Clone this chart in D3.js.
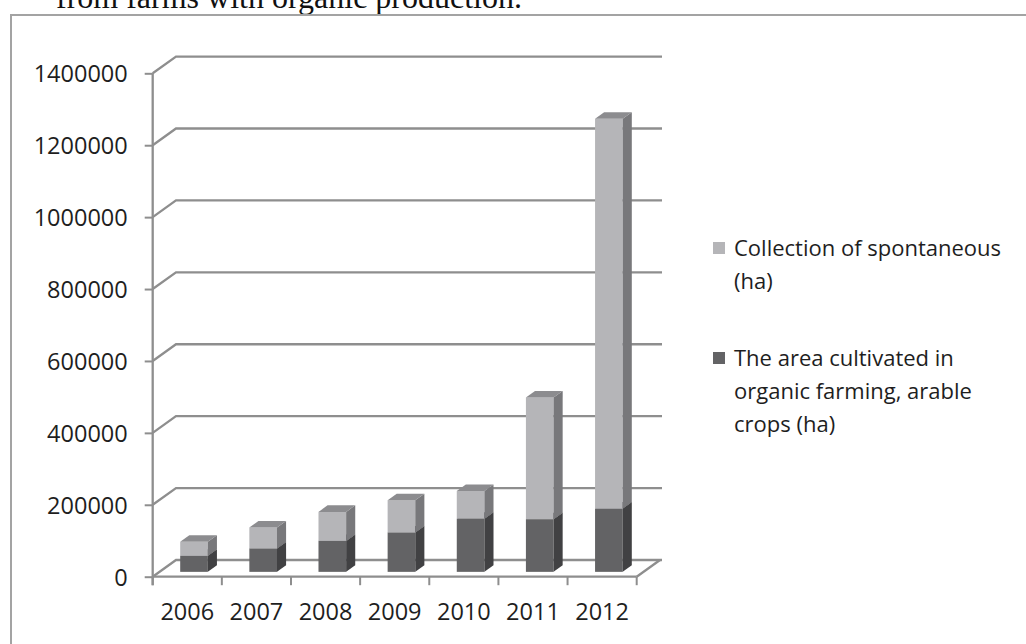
<!DOCTYPE html>
<html><head><meta charset="utf-8">
<script src="https://cdn.jsdelivr.net/npm/d3@7"></script>
<style>
html,body{margin:0;padding:0;background:#fff;}
svg{display:block;}
</style></head>
<body>
<svg id="chart" width="1026" height="644"></svg>
<script>
// ---- data ----
const years = ["2006","2007","2008","2009","2010","2011","2012"];
const arable = [44500, 65000, 86000, 109500, 148000, 146500, 176000];
const spontaneous = [38900, 58400, 80800, 89800, 77100, 338500, 1084000];
const yTicks = [0, 200000, 400000, 600000, 800000, 1000000, 1200000, 1400000];
const titleText = "from farms with organic production.";

// ---- layout ----
const svg = d3.select("#chart");
const FONT = "'Open Sans', Lato, sans-serif";
const DX = 23.3, DY = -16.7;          // depth vector of the 3D box
const gridCol = "#8e8e8e";

const x = d3.scaleBand().domain(years).range([152.7, 636.7]).padding(0);
const y = d3.scaleLinear().domain([0, 1400000]).range([576.7, 73.3]);

// title fragment (cut off at top, as in the source) and chart border
svg.append("text").attr("x", 56).attr("y", 8)
  .attr("font-family", "'Liberation Serif', 'Times New Roman', serif")
  .attr("font-size", 32).attr("fill", "#111").text(titleText);
svg.append("rect").attr("x", 11).attr("y", 15).attr("width", 1100).attr("height", 700)
  .attr("fill", "none").attr("stroke", "#a3a3a3").attr("stroke-width", 2);

const g = svg.append("g");

// back wall gridlines + left wall diagonals
const x0 = x.range()[0], x1 = x.range()[1];
yTicks.forEach(t => {
  const yy = y(t);
  g.append("path")
    .attr("d", `M${x0},${yy} L${x0+DX},${yy+DY} L${x1+DX+2},${yy+DY}`)
    .attr("fill", "none").attr("stroke", gridCol).attr("stroke-width", 2.3);
});
// floor right edge
g.append("path").attr("d", `M${x1},${y(0)} L${x1+DX},${y(0)+DY}`)
  .attr("fill", "none").attr("stroke", gridCol).attr("stroke-width", 2.3);

// y axis
const yAxis = d3.axisLeft(y).tickValues(yTicks).tickSize(8).tickPadding(17).tickFormat(d3.format("d"));
const ya = g.append("g").attr("transform", `translate(${x0},0)`).call(yAxis);
ya.select(".domain").attr("stroke", gridCol).attr("stroke-width", 2.3)
  .attr("d", `M0,${y(1400000)}V${y(0)+8.5}`);
ya.selectAll(".tick line").attr("stroke", gridCol).attr("stroke-width", 2);
ya.selectAll(".tick text").attr("font-family", FONT).attr("font-size", 23.5)
  .attr("fill", "#1e1e1e").attr("dy", "0.36em");

// x axis
g.append("line").attr("x1", x0).attr("x2", x1).attr("y1", y(0)).attr("y2", y(0))
  .attr("stroke", gridCol).attr("stroke-width", 2.3);
const bounds = years.map(d => x(d)).concat([x1]);
g.selectAll(".xt").data(bounds).enter().append("line")
  .attr("x1", d => d).attr("x2", d => d).attr("y1", y(0)).attr("y2", y(0) + 8.5)
  .attr("stroke", gridCol).attr("stroke-width", 2);
g.selectAll(".xl").data(years).enter().append("text")
  .attr("x", d => x(d) + x.bandwidth() / 2).attr("y", 620)
  .attr("text-anchor", "middle").attr("font-family", FONT).attr("font-size", 23.5)
  .attr("fill", "#1e1e1e").text(d => d);

// bars
const T0 = 0.29, TD = 0.39;
const bw = x.bandwidth() * 0.4;
const bdx = DX * TD, bdy = DY * TD;
const colors = [
  {front: "#636365", side: "#414143", top: "#545456"},
  {front: "#b5b5b8", side: "#78787b", top: "#8c8c8f"}
];
years.forEach((yr, i) => {
  const fx = x(yr) + x.bandwidth() / 2 - bw / 2 + DX * T0;
  const segs = [[0, arable[i]], [arable[i], arable[i] + spontaneous[i]]];
  segs.forEach((s, k) => {
    const yb = y(s[0]) + DY * T0, yt = y(s[1]) + DY * T0;
    const c = colors[k];
    const bg = g.append("g");
    bg.append("rect").attr("x", fx).attr("y", yt).attr("width", bw).attr("height", yb - yt).attr("fill", c.front);
    bg.append("path").attr("d", `M${fx+bw},${yb} L${fx+bw},${yt} L${fx+bw+bdx},${yt+bdy} L${fx+bw+bdx},${yb+bdy} Z`).attr("fill", c.side);
    bg.append("path").attr("d", `M${fx},${yt} L${fx+bw},${yt} L${fx+bw+bdx},${yt+bdy} L${fx+bdx},${yt+bdy} Z`).attr("fill", c.top);
  });
});

// legend
const legend = svg.append("g").attr("font-family", FONT).attr("font-size", 22).attr("fill", "#1e1e1e");
const legendItems = [
  {color: "#b5b5b8", lines: ["Collection of spontaneous", "(ha)"], y: 248},
  {color: "#636365", lines: ["The area cultivated in", "organic farming, arable", "crops (ha)"], y: 358}
];
legendItems.forEach(it => {
  legend.append("rect").attr("x", 713).attr("y", it.y - 6).attr("width", 12).attr("height", 12).attr("fill", it.color);
  it.lines.forEach((ln, j) => {
    legend.append("text").attr("x", 734).attr("y", it.y + j * 33).attr("dy", "0.36em").text(ln);
  });
});
</script>
</body></html>
